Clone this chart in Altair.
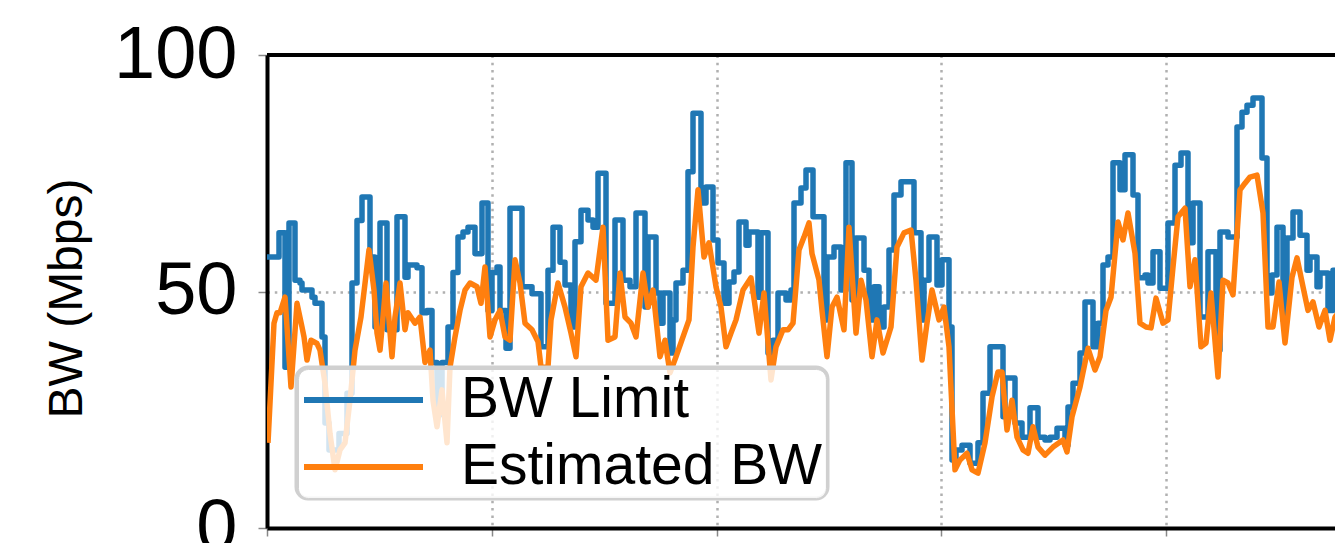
import altair as alt
import pandas as pd

# BW limit (step series): time offset, Mbps
limit_t = [0, 12, 18, 22, 28, 33, 35, 45, 48, 55, 58, 62, 72, 80, 85, 90, 95, 103, 108, 113,
           120, 130, 138, 141, 150, 155, 160, 165, 170, 175, 181, 186, 191, 196, 201, 208, 215, 221, 225, 230,
           233, 239, 243, 255, 265, 274, 281, 286, 293, 298, 304, 308, 314, 321, 326, 331, 339, 348, 356, 363,
           369, 378, 381, 389, 393, 396, 403, 406, 409, 416, 421, 426, 434, 439, 446, 451, 457, 462, 467, 472,
           479, 482, 491, 494, 501, 506, 511, 519, 524, 527, 534, 539, 546, 557, 560, 567, 574, 579, 585, 589,
           597, 602, 607, 612, 617, 622, 627, 634, 647, 654, 657, 662, 670, 675, 682, 685, 689, 695, 703, 711,
           716, 723, 736, 738, 748, 755, 763, 771, 778, 783, 790, 798, 801, 806, 813, 818, 826, 831, 836, 841,
           846, 853, 858, 866, 871, 878, 881, 886, 893, 901, 908, 914, 921, 926, 933, 941, 949, 953, 961, 970,
           975, 980, 986, 995, 1000, 1005, 1010, 1016, 1020, 1026, 1033, 1040, 1043, 1050, 1053, 1061, 1066, 1075, 1080]
limit_bw = [57.3, 62.4, 34, 64.5, 52.4, 51.8, 50.3, 48.8, 47.5, 40.4, 22.2, 16.5, 20, 28.5, 51.8, 65, 70, 57.3, 42.5, 64.5,
            41.9, 65.8, 53, 55.6, 55, 45.5, 46, 35, 24, 35, 42.5, 54, 61.5, 62.6, 63.6, 58, 68.7, 46, 54, 55.2,
            46, 38, 67.6, 51, 49.5, 38.3, 54.5, 63.6, 56.2, 51.4, 42.5, 60.5, 67.2, 65.1, 63.6, 75, 47.5, 65.1, 52.4, 51,
            66.6, 46.7, 61.5, 49.7, 43.3, 49.7, 37, 44, 51.8, 54.5, 75.3, 87.7, 68.7, 72.1, 60.9, 56, 47.5, 52, 54.1, 64.7,
            59.8, 62.6, 48.8, 62.4, 37, 39.7, 49.7, 48.2, 50.3, 68.7, 71.9, 75.7, 65.8, 44, 57.3, 59.4, 50.3, 77.2, 48.2, 61.3,
            54.5, 44, 51, 42.5, 46.7, 58.8, 70.4, 73.2, 62.4, 44, 52.4, 61.5, 51.4, 56.7, 42.5, 14.4, 16.5, 17.5, 13.7, 18,
            28.5, 38.3, 23.5, 31.7, 22.2, 19.2, 25.4, 19.2, 18.6, 19.2, 21.1, 17.5, 25.6, 30.6, 37, 47.8, 38.3, 43.3, 55.6, 57.3,
            77.2, 71.5, 78.9, 70.4, 52.9, 53.5, 51.8, 58.4, 50.7, 64.5, 76.7, 79.3, 60.3, 68.7, 44.6, 58.4, 37.6, 62.6, 61.5, 84.8,
            87.9, 89.4, 90.9, 78.2, 49.7, 53.5, 63.6, 44, 61.3, 66.8, 61.9, 54.5, 57.3, 51, 53.9, 46, 54.5, 46.7, 46.7]

# Estimated BW series: time offset, Mbps
est_t = [1, 7, 10, 13, 18, 24, 30, 35, 37, 40, 44, 50, 53, 58, 63, 68, 73, 78, 83, 88,
         94, 102, 107, 110, 113, 116, 119, 125, 128, 133, 138, 141, 148, 153, 158, 163, 166, 170, 175, 180,
         183, 188, 193, 198, 203, 210, 214, 218, 223, 228, 233, 238, 243, 248, 253, 258, 265, 271, 274, 281,
         284, 291, 298, 304, 309, 314, 321, 329, 336, 341, 348, 353, 358, 364, 369, 376, 381, 386, 393, 398,
         403, 409, 416, 422, 426, 431, 437, 442, 449, 454, 459, 464, 469, 476, 484, 492, 497, 504, 509, 516,
         521, 526, 532, 537, 542, 545, 552, 555, 560, 565, 570, 577, 582, 589, 594, 599, 605, 610, 616, 624,
         630, 637, 644, 649, 655, 660, 665, 672, 677, 682, 688, 693, 700, 705, 711, 718, 725, 731, 735, 740,
         745, 750, 756, 761, 766, 771, 778, 786, 796, 800, 805, 813, 821, 828, 833, 839, 844, 851, 856, 861,
         868, 873, 879, 884, 889, 896, 901, 906, 911, 918, 923, 928, 934, 939, 944, 951, 956, 961, 966, 973,
         978, 983, 990, 996, 1001, 1006, 1012, 1018, 1025, 1030, 1036, 1041, 1046, 1052, 1058, 1063, 1068, 1073, 1076]
est_bw = [18, 43.3, 45.5, 45.5, 48.8, 29.8, 47.5, 42.5, 40.4, 35.5, 39.7, 39, 37.6, 30.6, 20, 12.3, 16.5, 18, 27, 37.6,
          44.6, 58.8, 50.3, 41.2, 37.6, 44.6, 51.8, 36.2, 44.6, 51.8, 41.9, 45.5, 43.3, 44.6, 35, 37.6, 27, 21.4, 29.2, 18,
          34, 40.4, 46, 50.3, 51.8, 51, 47.5, 55.2, 40.4, 44, 46, 40.4, 39.7, 56.7, 51.8, 43.3, 41.9, 39.4, 34, 34,
          44, 51.8, 46.7, 41.2, 36.2, 51, 53.9, 52.4, 63.6, 39.7, 40.4, 53.9, 44.6, 43.3, 40.4, 53.9, 46.7, 50.3, 36.2, 39.7,
          32.8, 36.2, 40.4, 44, 59.4, 71.5, 57.3, 60.3, 51, 46.7, 38.3, 41.2, 44, 50.3, 52.9, 41.2, 49.7, 31.3, 38.3, 41.9,
          41.9, 43.3, 58.8, 61.5, 64.5, 58, 52.4, 46, 36.2, 46.7, 48.8, 41.9, 63.6, 41.2, 52.4, 48.2, 36.2, 44, 37, 42.5,
          59.4, 62.4, 63, 52.4, 35.5, 43.3, 50.3, 44, 46.7, 38.3, 12.3, 14.4, 15.8, 12.3, 11.6, 18, 27.7, 33, 33, 20.7,
          27, 19.2, 16.5, 15.8, 21.4, 17.1, 15.4, 17.1, 18.6, 16.1, 23.5, 29.8, 38, 33.4, 36.2, 46, 48.8, 64.7, 60.9, 66.6,
          58.1, 43.3, 42.5, 42.3, 48.6, 43.3, 44, 55.2, 65.8, 67.6, 51, 56.7, 38.3, 39.1, 49.7, 31.9, 52.4, 51.8, 49.3, 71.5,
          72.9, 74.2, 74.6, 66.6, 42.5, 42.5, 52, 39.1, 53, 57.1, 51, 46, 47.8, 42.5, 46, 39.7, 44.6, 46, 45.5]

series_names = ["BW Limit", "Estimated BW"]
series_colors = ["#1f77b4", "#ff7f0e"]
y_ticks = [0, 50, 100]
x_ticks = [0, 225, 450, 674, 899]
top_edge = [100]

limit_df = pd.DataFrame({"t": limit_t, "bw": limit_bw, "series": series_names[0]})
est_df = pd.DataFrame({"t": est_t, "bw": est_bw, "series": series_names[1]})
top_df = pd.DataFrame({"bw": top_edge})

xs = alt.Scale(domain=[0, 1068], nice=False, zero=False)
ys = alt.Scale(domain=[0, 100], nice=False)

grid_style = dict(grid=True, gridColor="#b0b0b0", gridDash=[2.5, 4.8], gridWidth=2.5)
x_axis = alt.Axis(values=x_ticks, labels=False, title=None, domainColor="black", domainWidth=4,
                  tickColor="#888888", tickSize=8, tickWidth=1.5, **grid_style)
y_axis = alt.Axis(values=y_ticks, title="BW (Mbps)", titleFontSize=48, titleFontWeight="normal",
                  titleColor="black", titleFont="Liberation Sans", titleX=-186, titleY=243, titleAngle=270,
                  titleBaseline="alphabetic", titleAlign="center",
                  labelFontSize=74, labelColor="black", labelFont="Liberation Sans", labelPadding=21,
                  tickSize=9, tickColor="#888888", tickWidth=1.5, domainColor="black", domainWidth=4,
                  **grid_style)

legend = alt.Legend(orient="none", legendX=31, legendY=314, title=None, symbolType="stroke",
                    symbolSize=14161, symbolStrokeWidth=6, labelFontSize=57, labelFont="Liberation Sans",
                    labelColor="black", labelOffset=35, rowPadding=10, padding=3, labelLimit=1000,
                    fillColor="rgba(255,255,255,0.8)", strokeColor="#d0d0d0", cornerRadius=10, clipHeight=56)
color = alt.Color("series:N", scale=alt.Scale(domain=series_names, range=series_colors), legend=legend)

limit_line = alt.Chart(limit_df).mark_line(interpolate="step-after", strokeWidth=5.5, clip=True,
                                           strokeJoin="round").encode(
    x=alt.X("t:Q", scale=xs, axis=x_axis),
    y=alt.Y("bw:Q", scale=ys, axis=y_axis),
    color=color,
)
est_line = alt.Chart(est_df).mark_line(strokeWidth=5.5, clip=True, strokeJoin="round").encode(
    x=alt.X("t:Q", scale=xs, axis=x_axis),
    y=alt.Y("bw:Q", scale=ys, axis=y_axis),
    color=color,
)
# thick rounded frame around the legend box
legend_frame = alt.Chart(top_df).mark_rect(
    fillOpacity=0, stroke="#d0d0d0", strokeWidth=4, cornerRadius=11.5
).encode(
    x=alt.value(29.5), x2=alt.value(560.5), y=alt.value(312.5), y2=alt.value(443.5)
)
top_rule = alt.Chart(top_df).mark_rule(color="black", strokeWidth=4).encode(
    y=alt.Y("bw:Q", scale=ys, axis=y_axis)
)

chart = alt.layer(limit_line, est_line, legend_frame, top_rule).properties(
    width=1068, height=473,
    padding={"left": 259, "top": 47, "right": 0, "bottom": 15},
    autosize=alt.AutoSizeParams(type="none"),
).configure_view(stroke=None).configure(font="Liberation Sans")

chart.save("out.html", embed_options={"renderer": "svg", "actions": False})
